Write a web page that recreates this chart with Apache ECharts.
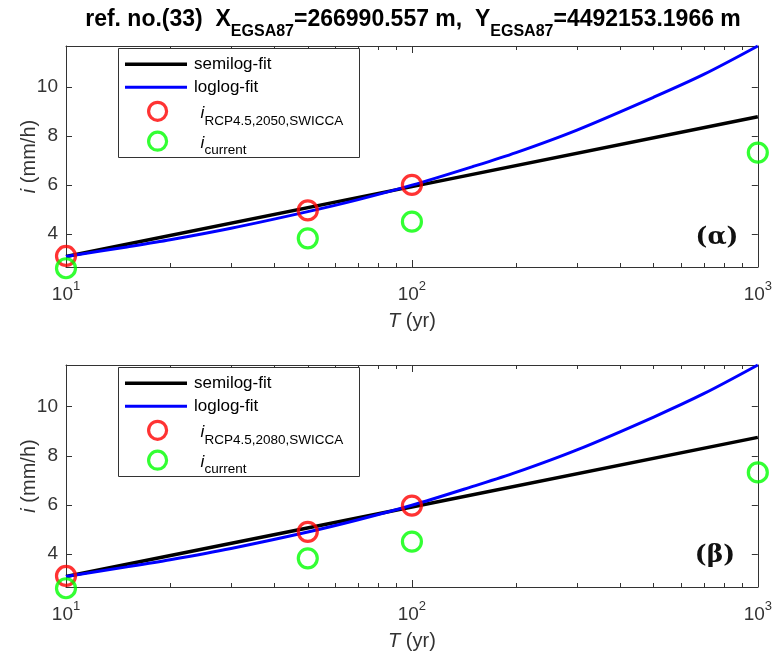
<!DOCTYPE html>
<html><head><meta charset="utf-8">
<script src="https://cdn.jsdelivr.net/npm/echarts@6/dist/echarts.min.js"></script>
<style>html,body{margin:0;padding:0;background:#fff}#c{width:775px;height:653px}</style>
</head><body><div id="c"></div>
<script>
// ---- data ----
const pointT = [10, 50, 100, 1000];
const rcp2050 = [3.10, 4.96, 6.00];           // T = 10, 50, 100
const rcp2080 = [3.10, 4.90, 5.97];
const current = [2.60, 3.82, 4.50, 7.32];      // T = 10, 50, 100, 1000
const semilogT = [10, 100, 1000];
const semilog2050 = [3.08, 5.93, 8.78];
const semilog2080 = [3.08, 5.91, 8.75];
const loglogT = [10, 15, 20, 30, 50, 70, 100, 150, 200, 300, 500, 700, 1000];
const loglog2050 = [3.08, 3.47, 3.76, 4.23, 4.91, 5.40, 5.99, 6.75, 7.32, 8.24, 9.58, 10.52, 11.67];
const loglog2080 = [3.08, 3.47, 3.76, 4.22, 4.89, 5.39, 5.98, 6.75, 7.32, 8.24, 9.58, 10.54, 11.70];
const yTicks = [4, 6, 8, 10];
const xMajor = [10, 100, 1000];
const xMinor = [20, 30, 40, 50, 60, 70, 80, 90, 200, 300, 400, 500, 600, 700, 800, 900];
const panelLabels = ['(\u03b1)', '(\u03b2)'];
const rcpNames = ['RCP4.5,2050,SWICCA', 'RCP4.5,2080,SWICCA'];

const AX = '#333333';
const FONT = 'Liberation Sans, Arial, sans-serif';
const grids = [{left: 66, top: 46, width: 694, height: 221}, {left: 66, top: 365, width: 694, height: 222}];
const yRange = [[2.65, 11.67], [2.65, 11.70]];
const labelPos = [[717, 237], [715, 555]];
const legendRowOffsets = [18.3, 41.3, 65.3, 95.2];

const zip = (xs, ys) => ys.map((y, i) => [xs[i], y]);

const xAxes = [], yAxes = [], series = [], legends = [], graphics = [];
grids.forEach((g, k) => {
  xAxes.push({type: 'log', gridIndex: k, min: 10, max: 1000, position: 'bottom',
    axisLine: {show: true, lineStyle: {color: AX, width: 1}},
    axisTick: {show: true, inside: true, length: 7, customValues: xMajor, lineStyle: {color: AX}},
    axisLabel: {customValues: xMajor, margin: 13, color: AX, fontFamily: FONT,
      formatter: v => '{b|10}{s|' + Math.round(Math.log10(v)) + '}',
      rich: {b: {fontSize: 19, fontFamily: FONT, color: AX, verticalAlign: 'bottom', lineHeight: 24},
             s: {fontSize: 13, fontFamily: FONT, color: AX, verticalAlign: 'top', lineHeight: 24}}},
    splitLine: {show: false},
    name: '{it|T} (yr)', nameLocation: 'middle', nameGap: 44,
    nameTextStyle: {fontSize: 20, color: AX, fontFamily: FONT, rich: {it: {fontSize: 20, fontStyle: 'italic', color: AX, fontFamily: FONT}}}
  });
  xAxes.push({type: 'log', gridIndex: k, min: 10, max: 1000, position: 'bottom',
    axisLine: {show: false}, axisLabel: {show: false}, splitLine: {show: false},
    axisTick: {show: true, inside: true, length: 4, customValues: xMinor, lineStyle: {color: AX}}});
  xAxes.push({type: 'log', gridIndex: k, min: 10, max: 1000, position: 'top',
    axisLine: {show: true, lineStyle: {color: AX}}, axisLabel: {show: false}, splitLine: {show: false},
    axisTick: {show: true, inside: true, length: 7, customValues: xMajor, lineStyle: {color: AX}}});
  xAxes.push({type: 'log', gridIndex: k, min: 10, max: 1000, position: 'top',
    axisLine: {show: false}, axisLabel: {show: false}, splitLine: {show: false},
    axisTick: {show: true, inside: true, length: 4, customValues: xMinor, lineStyle: {color: AX}}});

  yAxes.push({type: 'value', gridIndex: k, min: yRange[k][0], max: yRange[k][1], position: 'left',
    axisLine: {show: true, lineStyle: {color: AX}},
    axisTick: {show: true, inside: true, length: 6, customValues: yTicks, lineStyle: {color: AX}},
    axisLabel: {customValues: yTicks, color: AX, fontSize: 19, fontFamily: FONT, margin: 8},
    splitLine: {show: false},
    name: '{it|i} (mm/h)', nameLocation: 'middle', nameGap: 27, nameRotate: 90, nameMoveOverlap: false,
    nameTextStyle: {fontSize: 20, color: AX, fontFamily: FONT, rich: {it: {fontSize: 20, fontStyle: 'italic', color: AX, fontFamily: FONT}}}
  });
  yAxes.push({type: 'value', gridIndex: k, min: yRange[k][0], max: yRange[k][1], position: 'right',
    axisLine: {show: true, lineStyle: {color: AX}},
    axisTick: {show: true, inside: true, length: 6, customValues: yTicks, lineStyle: {color: AX}},
    axisLabel: {show: false}, splitLine: {show: false}});

  const xi = k * 4, yi = k * 2;
  const semi = k === 0 ? semilog2050 : semilog2080;
  const logl = k === 0 ? loglog2050 : loglog2080;
  const rcp = k === 0 ? rcp2050 : rcp2080;
  const rcpName = 'rcp' + k, curName = 'current' + k;
  series.push({type: 'line', name: 'semilog-fit', xAxisIndex: xi, yAxisIndex: yi, data: zip(semilogT, semi),
    showSymbol: false, symbol: 'none', clip: false, lineStyle: {color: '#000', width: 3.5}, itemStyle: {color: '#000'}, z: 2, silent: true});
  series.push({type: 'line', name: 'loglog-fit', xAxisIndex: xi, yAxisIndex: yi, data: zip(loglogT, logl),
    showSymbol: false, symbol: 'none', smooth: 0.3, clip: false, lineStyle: {color: '#0000ff', width: 3}, itemStyle: {color: '#0000ff'}, z: 3, silent: true});
  series.push({type: 'scatter', name: rcpName, xAxisIndex: xi, yAxisIndex: yi, data: zip(pointT, rcp),
    symbol: 'circle', symbolSize: 19, clip: false,
    itemStyle: {color: 'rgba(255,255,255,0)', borderColor: '#ff0000', borderWidth: 3.2}, z: 4, silent: true});
  series.push({type: 'scatter', name: curName, xAxisIndex: xi, yAxisIndex: yi, data: zip(pointT, current),
    symbol: 'circle', symbolSize: 19, clip: false,
    itemStyle: {color: 'rgba(255,255,255,0)', borderColor: '#00ff00', borderWidth: 3.2}, z: 4, silent: true});

  graphics.push({type: 'rect', left: 118, top: g.top + 2, shape: {width: 241, height: 109},
    style: {fill: '#fff', stroke: AX, lineWidth: 1}, z: 5});

  const itStyle = {fontSize: 17, fontFamily: FONT, fontStyle: 'italic', color: '#000', verticalAlign: 'top', lineHeight: 18, padding: [10, 0, 0, 5]};
  const subStyle = {fontSize: 13.5, fontFamily: FONT, color: '#000', verticalAlign: 'bottom', lineHeight: 33};
  const items = [
    {name: 'semilog-fit', icon: 'path://M0,0L62,0L62,3.5L0,3.5Z', text: 'semilog-fit', h: 21},
    {name: 'loglog-fit', icon: 'path://M0,0L62,0L62,3L0,3Z', text: 'loglog-fit', h: 21},
    {name: rcpName, icon: 'circle', color: '#ff0000', text: '{it|i}{sub|' + rcpNames[k] + '}', h: 33},
    {name: curName, icon: 'circle', color: '#00ff00', text: '{it|i}{sub|current}', h: 33}
  ];
  items.forEach((it, r) => {
    const d = {name: it.name, icon: it.icon};
    const isMarker = !!it.color;
    if (isMarker) d.itemStyle = {color: 'rgba(255,255,255,0)', borderColor: it.color, borderWidth: 3.2};
    legends.push({orient: 'vertical', left: isMarker ? 147 : 125, top: g.top + legendRowOffsets[r] - it.h / 2,
      itemWidth: isMarker ? 18 : 62, itemHeight: 18, itemGap: 0, padding: 0, selectedMode: false, z: 6,
      data: [d],
      formatter: () => it.text,
      textStyle: !isMarker
        ? {fontSize: 17, lineHeight: 21, fontFamily: FONT, color: '#000', padding: [0, 0, 0, 2]}
        : {fontSize: 17, fontFamily: FONT, color: '#000', padding: [0, 0, 0, 24], rich: {it: itStyle, sub: subStyle}}
    });
  });
  graphics.push({type: 'text', x: labelPos[k][0], y: labelPos[k][1], z: 10,
    style: {text: panelLabels[k], font: 'bold 25px "DejaVu Serif", serif', fill: '#111', align: 'center', verticalAlign: 'middle'}});
});

const chart = echarts.init(document.getElementById('c'), null, {renderer: 'canvas'});
chart.setOption({
  animation: false,
  backgroundColor: '#fff',
  title: {text: 'ref. no.(33)  X{s|EGSA87}=266990.557 m,  Y{s|EGSA87}=4492153.1966 m', left: 413, textAlign: 'center', top: 0, padding: 0,
    textStyle: {fontSize: 23, fontWeight: 'bold', fontFamily: FONT, color: '#000',
      rich: {s: {fontSize: 16, fontWeight: 'bold', fontFamily: FONT, color: '#000', verticalAlign: 'bottom', lineHeight: 40}}}},
  grid: grids.map(g => Object.assign({containLabel: false}, g)),
  xAxis: xAxes, yAxis: yAxes, series: series, legend: legends, graphic: graphics
});
</script></body></html>
